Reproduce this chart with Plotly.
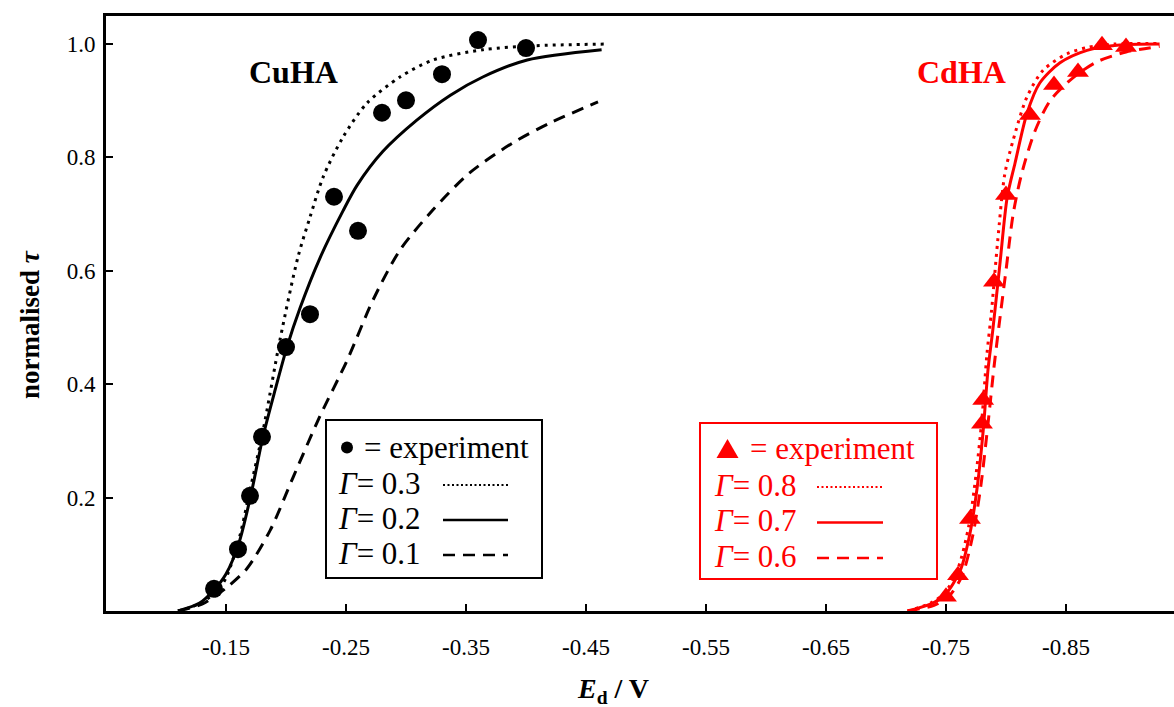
import plotly.graph_objects as go

# ---------------- data ----------------
# CuHA experiment
cu_exp_E = [-0.14, -0.16, -0.17, -0.18, -0.20, -0.22, -0.24, -0.26, -0.28, -0.30, -0.33, -0.36, -0.40]
cu_exp_tau = [0.039, 0.109, 0.203, 0.307, 0.465, 0.523, 0.730, 0.670, 0.878, 0.900, 0.946, 1.006, 0.992]

# CuHA model, Gamma = 0.3 (dotted)
cu_g03_E = [-0.11, -0.13, -0.1475, -0.16, -0.17, -0.181, -0.195, -0.21, -0.22, -0.231, -0.2475,
            -0.2675, -0.295, -0.3225, -0.364, -0.406, -0.466]
cu_g03_tau = [0.0, 0.015, 0.049, 0.12, 0.213, 0.319, 0.478, 0.624, 0.694, 0.765, 0.835,
              0.895, 0.941, 0.971, 0.989, 0.996, 0.999]

# CuHA model, Gamma = 0.2 (solid)
cu_g02_E = [-0.11, -0.128, -0.14, -0.15, -0.1608, -0.1708, -0.1808, -0.191, -0.2008, -0.2117,
            -0.2283, -0.2475, -0.2592, -0.2808, -0.309, -0.337, -0.364, -0.401, -0.463]
cu_g02_tau = [0.0, 0.014, 0.037, 0.065, 0.12, 0.205, 0.307, 0.39, 0.465, 0.534,
              0.622, 0.705, 0.75, 0.81, 0.865, 0.909, 0.941, 0.971, 0.989]

# CuHA model, Gamma = 0.1 (dashed)
cu_g01_E = [-0.11, -0.13, -0.14, -0.151, -0.1675, -0.187, -0.206, -0.228, -0.251, -0.2725,
            -0.295, -0.3225, -0.353, -0.389, -0.42, -0.46]
cu_g01_tau = [0.0, 0.012, 0.025, 0.042, 0.075, 0.143, 0.236, 0.342, 0.442, 0.548,
              0.636, 0.707, 0.772, 0.825, 0.86, 0.897]

# CdHA experiment
cd_exp_E = [-0.75, -0.76, -0.77, -0.78, -0.781, -0.79, -0.80, -0.82, -0.84, -0.86, -0.88, -0.90]
cd_exp_tau = [0.025, 0.063, 0.162, 0.33, 0.372, 0.58, 0.733, 0.874, 0.927, 0.95, 0.997, 0.994]

# CdHA model, Gamma = 0.8 (dotted)
cd_g08_E = [-0.718, -0.737, -0.749, -0.76, -0.769, -0.775, -0.78, -0.784, -0.788, -0.793, -0.799,
            -0.806, -0.8175, -0.831, -0.851, -0.868, -0.89, -0.928]
cd_g08_tau = [0.0, 0.014, 0.032, 0.075, 0.15, 0.24, 0.34, 0.45, 0.53, 0.65, 0.77,
              0.83, 0.906, 0.953, 0.982, 0.993, 0.999, 1.0]

# CdHA model, Gamma = 0.7 (solid)
cd_g07_E = [-0.718, -0.737, -0.749, -0.762, -0.77, -0.776, -0.781, -0.785, -0.789, -0.795, -0.801,
            -0.8075, -0.8175, -0.828, -0.845, -0.8675, -0.8925, -0.928]
cd_g07_tau = [0.0, 0.012, 0.028, 0.072, 0.137, 0.218, 0.318, 0.425, 0.495, 0.613, 0.729,
              0.789, 0.877, 0.93, 0.966, 0.988, 0.997, 0.999]

# CdHA model, Gamma = 0.6 (dashed)
cd_g06_E = [-0.718, -0.74, -0.752, -0.763, -0.772, -0.779, -0.785, -0.79, -0.794, -0.8, -0.806,
            -0.813, -0.824, -0.837, -0.856, -0.876, -0.9, -0.928]
cd_g06_tau = [0.0, 0.01, 0.025, 0.06, 0.13, 0.22, 0.33, 0.43, 0.5, 0.6, 0.7,
              0.77, 0.845, 0.9, 0.94, 0.968, 0.985, 0.995]

x_tick_vals = [-0.15, -0.25, -0.35, -0.45, -0.55, -0.65, -0.75, -0.85]
x_tick_text = ["-0.15", "-0.25", "-0.35", "-0.45", "-0.55", "-0.65", "-0.75", "-0.85"]
y_tick_vals = [0.2, 0.4, 0.6, 0.8, 1.0]
y_tick_text = ["0.2", "0.4", "0.6", "0.8", "1.0"]

cu_gamma_labels = ["0.3", "0.2", "0.1"]
cd_gamma_labels = ["0.8", "0.7", "0.6"]

# ---------------- styling ----------------
FONT = "Liberation Serif, Times New Roman, serif"
BLACK = "#000000"
RED = "#ff0000"
DOT = "3px,5px"
DASH = "12px,8px"

W, H = 1174, 707
L, R, T, B = 106, 0, 16, 96
PW, PH = W - L - R, H - T - B


def px(x):
    return (x - L) / PW


def py(y):
    return (H - B - y) / PH


fig = go.Figure()


def add_line(xs, ys, color, dash):
    fig.add_trace(go.Scatter(x=xs, y=ys, mode="lines",
                             line=dict(color=color, width=3, dash=dash, shape="spline", smoothing=0.8),
                             showlegend=False, hoverinfo="skip"))


add_line(cu_g03_E, cu_g03_tau, BLACK, DOT)
add_line(cu_g02_E, cu_g02_tau, BLACK, "solid")
add_line(cu_g01_E, cu_g01_tau, BLACK, DASH)
add_line(cd_g08_E, cd_g08_tau, RED, DOT)
add_line(cd_g07_E, cd_g07_tau, RED, "solid")
add_line(cd_g06_E, cd_g06_tau, RED, DASH)

fig.add_trace(go.Scatter(x=cu_exp_E, y=cu_exp_tau, mode="markers",
                         marker=dict(symbol="circle", size=18, color=BLACK),
                         showlegend=False))
fig.add_trace(go.Scatter(x=cd_exp_E, y=cd_exp_tau, mode="markers",
                         marker=dict(symbol="triangle-up", size=19, color=RED),
                         showlegend=False))

shapes = []
annotations = []


def text(x, y, s, size, color, xanchor="center", angle=0):
    annotations.append(dict(x=px(x), y=py(y), xref="paper", yref="paper",
                            xanchor=xanchor, yanchor="middle", showarrow=False,
                            text=s, textangle=angle,
                            font=dict(family=FONT, size=size, color=color)))


# legend boxes
for (x0, y0, x1, y1, col) in [(326, 420, 542, 578, BLACK), (700, 423, 937, 579, RED)]:
    shapes.append(dict(type="rect", xref="paper", yref="paper",
                       x0=px(x0), x1=px(x1), y0=py(y1), y1=py(y0),
                       line=dict(color=col, width=2), fillcolor="white", layer="above"))

# black legend content
shapes.append(dict(type="circle", xref="paper", yref="paper",
                   x0=px(341), x1=px(353), y0=py(453.5), y1=py(441.5),
                   fillcolor=BLACK, line=dict(width=0), layer="above"))
text(362, 447, "= experiment", 31, BLACK, "left")
for i, (lab, d) in enumerate(zip(cu_gamma_labels, [DOT, "solid", DASH])):
    yy = 483 + i * 35
    text(336, yy, "<i>Γ</i>= " + lab, 31, BLACK, "left")
    shapes.append(dict(type="line", xref="paper", yref="paper",
                       x0=px(443), x1=px(508), y0=py(yy + 2), y1=py(yy + 2),
                       line=dict(color=BLACK, width=2.5 if d != DOT else 2,
                                 dash=d if d != DOT else "2px,2.5px"), layer="above"))

# red legend content
shapes.append(dict(type="path", xref="paper", yref="paper",
                   path=f"M {px(716.5)} {py(458)} L {px(738.5)} {py(458)} L {px(727.5)} {py(439)} Z",
                   fillcolor=RED, line=dict(width=0), layer="above"))
text(748, 448, "= experiment", 31, RED, "left")
for i, (lab, d) in enumerate(zip(cd_gamma_labels, [DOT, "solid", DASH])):
    yy = 485 + i * 35.5
    text(712, yy, "<i>Γ</i>= " + lab, 31, RED, "left")
    shapes.append(dict(type="line", xref="paper", yref="paper",
                       x0=px(817), x1=px(883), y0=py(yy + 2), y1=py(yy + 2),
                       line=dict(color=RED, width=2.5 if d != DOT else 2,
                                 dash=d if d != DOT else "2px,2.5px"), layer="above"))

# series labels
text(293, 72, "<b>CuHA</b>", 32, BLACK)
text(961, 72, "<b>CdHA</b>", 32, RED)

# axis titles
text(613, 690, "<b><i>E</i><sub>d</sub> / V</b>", 28, BLACK)
text(30, 325, "<b>normalised <i>τ</i></b>", 27, BLACK, "center", -90)

fig.update_layout(
    width=W, height=H,
    margin=dict(l=L, r=R, t=T, b=B, pad=0),
    paper_bgcolor="white", plot_bgcolor="white",
    showlegend=False,
    shapes=shapes, annotations=annotations,
    xaxis=dict(range=[-0.05, -0.94], tickvals=x_tick_vals, ticktext=x_tick_text,
               ticks="inside", ticklen=7, tickwidth=2, tickcolor=BLACK,
               showline=True, linewidth=3, linecolor=BLACK, mirror=True,
               showgrid=False, zeroline=False, ticklabelstandoff=13, automargin=False,
               tickfont=dict(family=FONT, size=23, color=BLACK)),
    yaxis=dict(range=[0, 1.0485], tickvals=y_tick_vals, ticktext=y_tick_text,
               ticks="inside", ticklen=7, tickwidth=2, tickcolor=BLACK,
               showline=True, linewidth=3, linecolor=BLACK,
               showgrid=False, zeroline=False, ticklabelstandoff=3, automargin=False,
               tickfont=dict(family=FONT, size=23, color=BLACK)),
)

fig.write_html("out.html", config={"displayModeBar": False},
               post_script="document.body.style.margin='0';")
